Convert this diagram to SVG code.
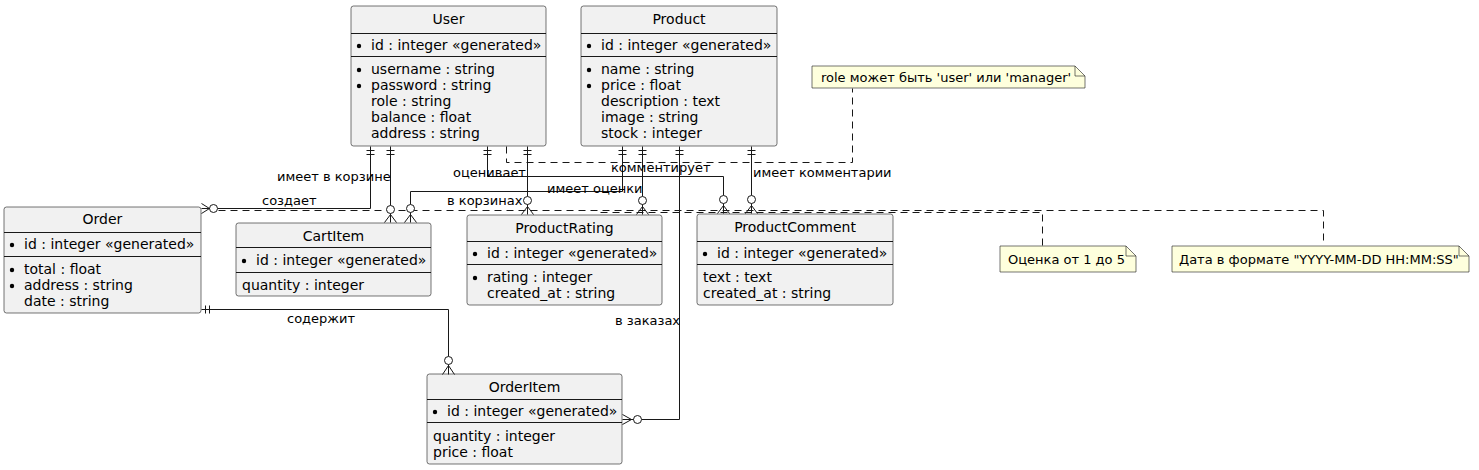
<svg xmlns="http://www.w3.org/2000/svg" width="1479" height="470" viewBox="0 0 1479 470">
<style>
.box{fill:#F1F1F1;stroke:#181818;stroke-width:0.6}
.sep{stroke:#181818;stroke-width:1;shape-rendering:crispEdges}
.t{font-family:"DejaVu Sans",sans-serif;font-size:14px;fill:#000}
.tc{text-anchor:middle}
.lbl{font-family:"DejaVu Sans",sans-serif;font-size:13px;fill:#000}
.b{fill:#000}
.ln{fill:none;stroke:#181818;stroke-width:1}
.dash{fill:none;stroke:#181818;stroke-width:1;stroke-dasharray:7,5}
.circ{fill:#FFFFFF;stroke:#181818;stroke-width:1}
.note{fill:#FEFFDD;stroke:#181818;stroke-width:0.6}
</style>
<rect width="1479" height="470" fill="#FFFFFF"/>

<g id="User">
<rect class="box" x="351" y="6" width="195" height="140" rx="2.5"/>
<text class="t tc" x="448.5" y="24">User</text>
<line class="sep" x1="351" y1="33" x2="546" y2="33"/>
<circle class="b" cx="359" cy="46" r="2.2"/><text class="t" x="371" y="50">id : integer «generated»</text>
<line class="sep" x1="351" y1="56" x2="546" y2="56"/>
<circle class="b" cx="359" cy="70" r="2.2"/><text class="t" x="371" y="74">username : string</text>
<circle class="b" cx="359" cy="86" r="2.2"/><text class="t" x="371" y="90">password : string</text>
<text class="t" x="371" y="106">role : string</text>
<text class="t" x="371" y="122">balance : float</text>
<text class="t" x="371" y="138">address : string</text>
</g>

<g id="Product">
<rect class="box" x="581" y="6" width="196" height="140" rx="2.5"/>
<text class="t tc" x="679" y="24">Product</text>
<line class="sep" x1="581" y1="33" x2="777" y2="33"/>
<circle class="b" cx="589" cy="46" r="2.2"/><text class="t" x="601" y="50">id : integer «generated»</text>
<line class="sep" x1="581" y1="56" x2="777" y2="56"/>
<circle class="b" cx="589" cy="70" r="2.2"/><text class="t" x="601" y="74">name : string</text>
<circle class="b" cx="589" cy="86" r="2.2"/><text class="t" x="601" y="90">price : float</text>
<text class="t" x="601" y="106">description : text</text>
<text class="t" x="601" y="122">image : string</text>
<text class="t" x="601" y="138">stock : integer</text>
</g>

<g id="Order">
<rect class="box" x="4" y="207" width="197" height="106" rx="2.5"/>
<text class="t tc" x="102.5" y="224">Order</text>
<line class="sep" x1="4" y1="232" x2="201" y2="232"/>
<circle class="b" cx="12" cy="245" r="2.2"/><text class="t" x="24" y="249">id : integer «generated»</text>
<line class="sep" x1="4" y1="256" x2="201" y2="256"/>
<circle class="b" cx="12" cy="270" r="2.2"/><text class="t" x="24" y="274">total : float</text>
<circle class="b" cx="12" cy="286" r="2.2"/><text class="t" x="24" y="290">address : string</text>
<text class="t" x="24" y="306">date : string</text>
</g>

<g id="CartItem">
<rect class="box" x="236" y="223" width="195" height="73" rx="2.5"/>
<text class="t tc" x="333.5" y="241">CartItem</text>
<line class="sep" x1="236" y1="247" x2="431" y2="247"/>
<circle class="b" cx="244" cy="261" r="2.2"/><text class="t" x="256" y="265">id : integer «generated»</text>
<line class="sep" x1="236" y1="272" x2="431" y2="272"/>
<text class="t" x="242" y="290">quantity : integer</text>
</g>

<g id="ProductRating">
<rect class="box" x="467" y="215" width="195" height="90" rx="2.5"/>
<text class="t tc" x="564.5" y="233">ProductRating</text>
<line class="sep" x1="467" y1="241" x2="662" y2="241"/>
<circle class="b" cx="475" cy="254" r="2.2"/><text class="t" x="487" y="258">id : integer «generated»</text>
<line class="sep" x1="467" y1="264" x2="662" y2="264"/>
<circle class="b" cx="475" cy="278" r="2.2"/><text class="t" x="487" y="282">rating : integer</text>
<text class="t" x="487" y="298">created_at : string</text>
</g>

<g id="ProductComment">
<rect class="box" x="697" y="214" width="196" height="91" rx="2.5"/>
<text class="t tc" x="795" y="232">ProductComment</text>
<line class="sep" x1="697" y1="241" x2="893" y2="241"/>
<circle class="b" cx="705" cy="254" r="2.2"/><text class="t" x="717" y="258">id : integer «generated»</text>
<line class="sep" x1="697" y1="264" x2="893" y2="264"/>
<text class="t" x="703" y="282">text : text</text>
<text class="t" x="703" y="298">created_at : string</text>
</g>

<g id="OrderItem">
<rect class="box" x="427" y="374" width="195" height="90" rx="2.5"/>
<text class="t tc" x="524.5" y="392">OrderItem</text>
<line class="sep" x1="427" y1="399" x2="622" y2="399"/>
<circle class="b" cx="435" cy="412" r="2.2"/><text class="t" x="447" y="416">id : integer «generated»</text>
<line class="sep" x1="427" y1="422" x2="622" y2="422"/>
<text class="t" x="433" y="441">quantity : integer</text>
<text class="t" x="433" y="457">price : float</text>
</g>

<g id="note-role">
<path class="note" d="M812,66 L1075,66 L1085,76 L1085,88 L812,88 Z"/>
<path class="ln" style="stroke-width:0.6" d="M1075,66 L1075,76 L1085,76"/>
<text class="lbl" x="821" y="82">role может быть 'user' или 'manager'</text>
</g>

<g id="note-rating">
<path class="note" d="M1000,246 L1126,246 L1136,256 L1136,272 L1000,272 Z"/>
<path class="ln" style="stroke-width:0.6" d="M1126,246 L1126,256 L1136,256"/>
<text class="lbl" x="1008" y="264">Оценка от 1 до 5</text>
</g>

<g id="note-date">
<path class="note" d="M1172,246 L1459,246 L1469,256 L1469,272 L1172,272 Z"/>
<path class="ln" style="stroke-width:0.6" d="M1459,246 L1459,256 L1469,256"/>
<text class="lbl" x="1179" y="264">Дата в формате "YYYY-MM-DD HH:MM:SS"</text>
</g>

<g id="connectors" transform="translate(0.5,0.5)">
<path class="dash" d="M506,146 L506,162 L852,162 L852,88"/>
<path class="dash" d="M218,210 L1323,210 L1323,245"/>
<path class="dash" d="M600,212 L1042,212 L1042,245"/>

<path class="ln" d="M370,146 L370,208 L217,208"/>
<path class="ln" d="M366,150 L374,150 M366,154 L374,154"/>
<circle class="circ" cx="213" cy="208" r="4"/>
<path class="ln" d="M201,203 L209,208 L201,213 M201,208 L209,208"/>

<path class="ln" d="M390,146 L390,205"/>
<path class="ln" d="M386,150 L394,150 M386,154 L394,154"/>
<circle class="circ" cx="390" cy="209" r="4"/>
<path class="ln" d="M384,222 L390,214 L396,222 M390,213 L390,222"/>

<path class="ln" d="M622,146 L622,191 L410,191 L410,204"/>
<path class="ln" d="M618,150 L626,150 M618,154 L626,154"/>
<circle class="circ" cx="410" cy="208" r="4"/>
<path class="ln" d="M404,222 L410,214 L416,222 M410,212 L410,222"/>

<path class="ln" d="M527,146 L527,196"/>
<path class="ln" d="M523,150 L531,150 M523,154 L531,154"/>
<circle class="circ" cx="527" cy="200" r="4"/>
<path class="ln" d="M521,214 L527,206 L533,214 M527,204 L527,214"/>

<path class="ln" d="M642,146 L642,196"/>
<path class="ln" d="M638,150 L646,150 M638,154 L646,154"/>
<circle class="circ" cx="642" cy="200" r="4"/>
<path class="ln" d="M636,214 L642,206 L648,214 M642,204 L642,214"/>

<path class="ln" d="M487,146 L487,176 L723,176 L723,195"/>
<path class="ln" d="M483,150 L491,150 M483,154 L491,154"/>
<circle class="circ" cx="723" cy="199" r="4"/>
<path class="ln" d="M717,213 L723,205 L729,213 M723,203 L723,213"/>

<path class="ln" d="M751,146 L751,195"/>
<path class="ln" d="M747,150 L755,150 M747,154 L755,154"/>
<circle class="circ" cx="751" cy="199" r="4"/>
<path class="ln" d="M745,213 L751,205 L757,213 M751,203 L751,213"/>

<path class="ln" d="M679,146 L679,419 L641,419"/>
<path class="ln" d="M675,150 L683,150 M675,154 L683,154"/>
<circle class="circ" cx="637" cy="419" r="4"/>
<path class="ln" d="M622,414 L631,419 L622,424 M622,419 L633,419"/>

<path class="ln" d="M201,309 L448,309 L448,356"/>
<path class="ln" d="M205,305 L205,313 M209,305 L209,313"/>
<circle class="circ" cx="448" cy="360" r="4"/>
<path class="ln" d="M442,374 L448,365 L454,374 M448,364 L448,374"/>

<text class="lbl" x="261.5" y="204.5">создает</text>
<text class="lbl" x="276.5" y="180.5">имеет в корзине</text>
<text class="lbl" x="446.5" y="204.5">в корзинах</text>
<text class="lbl" x="452.5" y="176.5">оценивает</text>
<text class="lbl" x="546.5" y="192.5">имеет оценки</text>
<text class="lbl" x="610.5" y="171.5">комментирует</text>
<text class="lbl" x="752.5" y="176.5">имеет комментарии</text>
<text class="lbl" x="614.5" y="324.5">в заказах</text>
<text class="lbl" x="286.5" y="322.5">содержит</text>
</g>
</svg>
